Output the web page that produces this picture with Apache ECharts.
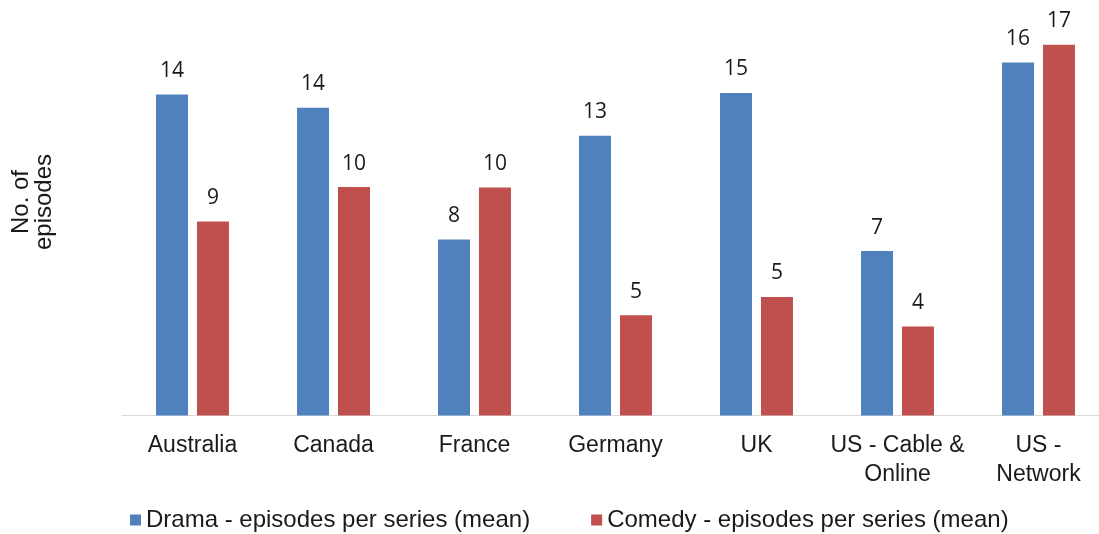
<!DOCTYPE html>
<html>
<head>
<meta charset="utf-8">
<script src="https://cdn.jsdelivr.net/npm/echarts@6/dist/echarts.min.js"></script>
<style>
html,body{margin:0;padding:0;background:#fff;}
#chart{width:1099px;height:534px;}
</style>
</head>
<body>
<div id="chart"></div>
<script>
var categories = ['Australia', 'Canada', 'France', 'Germany', 'UK', 'US - Cable &\nOnline', 'US -\nNetwork'];
var seriesNames = ['Drama - episodes per series (mean)', 'Comedy - episodes per series (mean)'];
var dramaValues = [14.46, 13.87, 7.93, 12.61, 14.53, 7.41, 15.9];
var comedyValues = [8.74, 10.29, 10.27, 4.52, 5.34, 4.01, 16.71];
var yAxisTitle = 'No. of\nepisodes';

var chart = echarts.init(document.getElementById('chart'), null, {renderer: 'canvas'});
var labelOpt = {
  show: true,
  position: 'top',
  distance: 13,
  fontFamily: 'Open Sans',
  fontSize: 21,
  color: '#1a1a1a',
  formatter: function (p) { return Math.round(p.value); }
};
chart.setOption({
  animation: false,
  backgroundColor: '#ffffff',
  grid: {left: 122, width: 987, top: 16, height: 399.5, containLabel: false, outerBoundsMode: 'none'},
  legend: {
    left: 125,
    top: 503,
    itemWidth: 11,
    itemHeight: 11,
    itemGap: 61,
    icon: 'rect',
    textStyle: {fontFamily: 'Liberation Sans', fontSize: 24, color: '#1a1a1a'},
    data: seriesNames
  },
  xAxis: {
    type: 'category',
    data: categories,
    axisLine: {show: true, lineStyle: {color: '#d9d9d9', width: 1}},
    axisTick: {show: false},
    axisLabel: {
      fontFamily: 'Liberation Sans',
      fontSize: 23,
      lineHeight: 29,
      color: '#1a1a1a',
      margin: 16,
      interval: 0
    }
  },
  yAxis: {
    type: 'value',
    min: 0,
    max: 18,
    axisLine: {show: false},
    axisTick: {show: false},
    axisLabel: {show: false},
    splitLine: {show: false}
  },
  graphic: [{
    type: 'text',
    x: 33,
    y: 202,
    rotation: Math.PI / 2,
    style: {
      text: yAxisTitle,
      fontFamily: 'Liberation Sans',
      fontSize: 24,
      lineHeight: 23,
      fill: '#1a1a1a',
      align: 'center',
      verticalAlign: 'middle'
    }
  }],
  series: [{
    name: seriesNames[0],
    type: 'bar',
    data: dramaValues,
    barWidth: 32,
    barGap: '28%',
    itemStyle: {color: '#4F81BD'},
    label: labelOpt
  }, {
    name: seriesNames[1],
    type: 'bar',
    data: comedyValues,
    barWidth: 32,
    barGap: '28%',
    itemStyle: {color: '#C0504D'},
    label: labelOpt
  }]
});
</script>
</body>
</html>
